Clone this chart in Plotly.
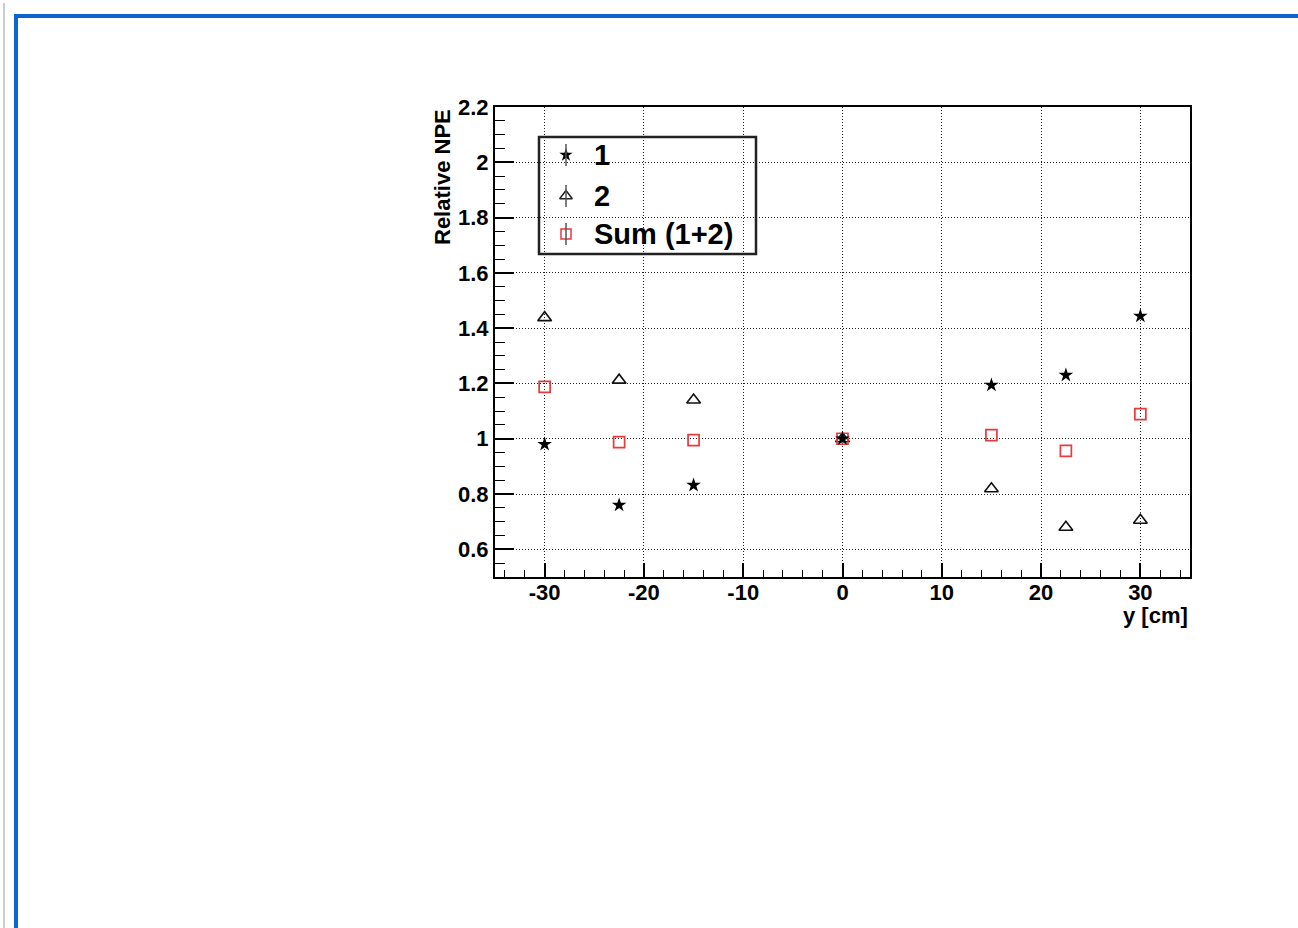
import plotly.graph_objects as go

# Relative NPE versus position y [cm]
positions = [-30, -22.5, -15, 0, 15, 22.5, 30]
npe_1 = [0.98, 0.76, 0.832, 1.0, 1.194, 1.23, 1.444]
npe_2 = [1.438, 1.212, 1.14, 1.0, 0.819, 0.68, 0.705]
npe_sum = [1.188, 0.988, 0.995, 1.0, 1.013, 0.956, 1.089]

legend_labels = ["1", "2", "Sum (1+2)"]
x_tick_vals = [-30, -20, -10, 0, 10, 20, 30]
x_tick_text = ["-30", "-20", "-10", "0", "10", "20", "30"]
y_tick_vals = [0.6, 0.8, 1.0, 1.2, 1.4, 1.6, 1.8, 2.0, 2.2]
y_tick_text = ["0.6", "0.8", "1", "1.2", "1.4", "1.6", "1.8", "2", "2.2"]

W, H = 1298, 928
PL, PR, PT, PB = 495, 1190, 107, 577  # frame in pixels
PW, PH = PR - PL, PB - PT

FONT = "Liberation Sans, Arial, Helvetica, sans-serif"
RED = "#e8393c"


def px(xp):
    return (xp - PL) / PW


def py(yp):
    return (PB - yp) / PH


fig = go.Figure()

fig.add_trace(go.Scatter(
    x=positions, y=npe_2, mode="markers", name=legend_labels[1],
    marker=dict(symbol="triangle-up-open", size=12, color="#111",
                line=dict(width=1.6, color="#111")),
    showlegend=False))
fig.add_trace(go.Scatter(
    x=positions, y=npe_sum, mode="markers", name=legend_labels[2],
    marker=dict(symbol="square-open", size=11, color=RED,
                line=dict(width=1.7, color=RED)),
    showlegend=False))
fig.add_trace(go.Scatter(
    x=positions, y=npe_1, mode="markers", name=legend_labels[0],
    marker=dict(symbol="star", size=11, color="black",
                line=dict(width=0)),
    showlegend=False))

# Legend box drawn by hand (transparent, framed)
leg_x = px(566)
leg_rows = [155, 196, 234]
leg_styles = [
    dict(symbol="star", size=10, color="black", line=dict(width=0)),
    dict(symbol="triangle-up-open", size=11, color="#222",
         line=dict(width=1.5, color="#222")),
    dict(symbol="square-open", size=10, color=RED,
         line=dict(width=1.5, color=RED)),
]
shapes = [
    dict(type="rect", xref="paper", yref="paper",
         x0=px(539), x1=px(756), y0=py(254), y1=py(137),
         line=dict(color="#222", width=2.5), fillcolor="rgba(0,0,0,0)"),
]
annotations = []
for label, row, style in zip(legend_labels, leg_rows, leg_styles):
    shapes.append(dict(type="line", xref="paper", yref="paper",
                       x0=leg_x, x1=leg_x, y0=py(row + 11), y1=py(row - 11),
                       line=dict(color="#555", width=1.5)))
    fig.add_trace(go.Scatter(
        x=[leg_x], y=[py(row)], xaxis="x2", yaxis="y2", mode="markers",
        marker=style, showlegend=False, hoverinfo="skip"))
    annotations.append(dict(
        x=px(592), y=py(row), xref="paper", yref="paper",
        xanchor="left", yanchor="middle", showarrow=False, text=label,
        font=dict(family=FONT, size=29, color="black", weight="bold")))

# Axis titles
annotations.append(dict(
    x=px(442), y=1.0, xref="paper", yref="paper", xanchor="center",
    yanchor="top", textangle=-90, showarrow=False, text="Relative NPE",
    font=dict(family=FONT, size=22, color="black", weight="bold")))
annotations.append(dict(
    x=1.0, y=py(615), xref="paper", yref="paper", xanchor="right",
    yanchor="middle", showarrow=False, text="y [cm]",
    font=dict(family=FONT, size=22, color="black", weight="bold")))

# Page frame
shapes.append(dict(type="line", xref="paper", yref="paper",
                   x0=px(4), x1=px(4), y0=py(3), y1=py(940),
                   line=dict(color="#cccccc", width=2)))
shapes.append(dict(type="line", xref="paper", yref="paper",
                   x0=px(16), x1=px(16), y0=py(14), y1=py(940),
                   line=dict(color="#0a66cc", width=4)))
shapes.append(dict(type="line", xref="paper", yref="paper",
                   x0=px(14), x1=px(1310), y0=py(16), y1=py(16),
                   line=dict(color="#0a66cc", width=4)))

tick_font = dict(family=FONT, size=22, color="black", weight="bold")
grid_dash = "1px,2px"

fig.update_layout(
    width=W, height=H,
    margin=dict(l=PL, r=W - PR, t=PT, b=H - PB),
    paper_bgcolor="white", plot_bgcolor="white",
    showlegend=False,
    shapes=shapes, annotations=annotations,
    xaxis=dict(
        range=[-35, 35], tickvals=x_tick_vals, ticktext=x_tick_text,
        ticks="inside", ticklen=14, tickwidth=1.5, tickcolor="black",
        tickfont=tick_font, showline=True, linewidth=2, linecolor="black",
        mirror=True, showgrid=True, gridcolor="#222", griddash=grid_dash,
        gridwidth=1.2, zeroline=False, ticklabelstandoff=-5,
        minor=dict(dtick=2, tick0=0, ticks="inside", ticklen=7,
                   tickwidth=1, tickcolor="black", showgrid=False),
    ),
    yaxis=dict(
        range=[0.5, 2.2], tickvals=y_tick_vals, ticktext=y_tick_text,
        ticks="inside", ticklen=19, tickwidth=1.5, tickcolor="black",
        tickfont=tick_font, showline=True, linewidth=2, linecolor="black",
        mirror=True, showgrid=True, gridcolor="#222", griddash=grid_dash,
        gridwidth=1.2, zeroline=False,
        minor=dict(dtick=0.05, tick0=0.5, ticks="inside", ticklen=10,
                   tickwidth=1, tickcolor="black", showgrid=False),
    ),
    xaxis2=dict(overlaying="x", range=[0, 1], visible=False),
    yaxis2=dict(overlaying="y", range=[0, 1], visible=False),
)

fig.write_html("out.html")
